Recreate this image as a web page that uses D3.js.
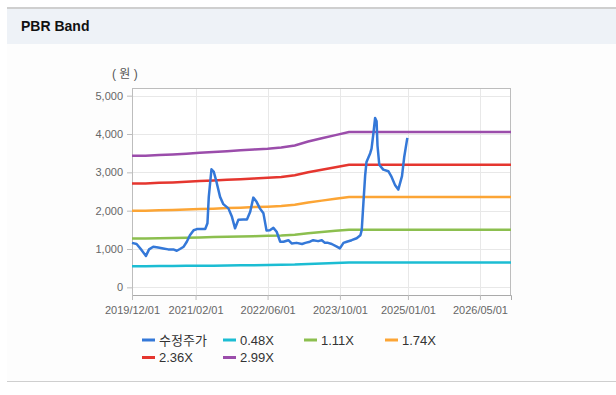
<!DOCTYPE html>
<html>
<head>
<meta charset="utf-8">
<script src="https://cdn.jsdelivr.net/npm/d3@7"></script>
<style>
  body { margin: 0; background: #fff; }
  svg { display: block; font-family: "Liberation Sans", "Noto Sans CJK KR", sans-serif; }
</style>
</head>
<body>
<svg id="chart" width="616" height="395"></svg>
<script>
// band dates (BPS updates) and band values
const bandDates = ['2019-12-01', '2020-03-01', '2020-06-01', '2020-09-01', '2020-12-01', '2021-03-01',
  '2021-06-01', '2021-09-01', '2021-12-01', '2022-03-01', '2022-06-01', '2022-09-01', '2022-12-01',
  '2023-03-01', '2023-06-01', '2023-09-01', '2023-12-01', '2026-11-26'];
const band048 = [551, 551, 554, 557, 560, 564, 566, 570, 574, 577, 581, 586, 594, 611, 624, 637, 651, 651];
const band111 = [1274, 1274, 1282, 1288, 1294, 1303, 1310, 1319, 1326, 1335, 1343, 1354, 1374, 1412, 1443, 1474, 1505, 1505];
const band174 = [1998, 1998, 2010, 2018, 2029, 2043, 2053, 2067, 2079, 2093, 2105, 2123, 2154, 2213, 2262, 2311, 2359, 2359];
const band236 = [2709, 2709, 2726, 2738, 2752, 2771, 2785, 2804, 2820, 2839, 2856, 2879, 2922, 3002, 3068, 3134, 3200, 3200];
const band299 = [3433, 3433, 3453, 3468, 3486, 3510, 3528, 3552, 3573, 3597, 3618, 3648, 3702, 3803, 3887, 3971, 4054, 4054];

// 수정주가 (adjusted price)
const priceDates = ['2019-12-01', '2020-01-01', '2020-02-04', '2020-03-04', '2020-03-25', '2020-04-22',
  '2020-05-25', '2020-06-28', '2020-08-01', '2020-09-04', '2020-09-28', '2020-10-19', '2020-11-13',
  '2020-12-04', '2020-12-25', '2021-01-19', '2021-02-10', '2021-04-07', '2021-04-22', '2021-05-01',
  '2021-05-19', '2021-06-04', '2021-06-22', '2021-07-16', '2021-08-07', '2021-09-10', '2021-10-04',
  '2021-10-25', '2021-11-16', '2021-12-19', '2022-01-13', '2022-02-04', '2022-02-25', '2022-03-19',
  '2022-04-10', '2022-05-04', '2022-05-25', '2022-06-16', '2022-07-10', '2022-08-01', '2022-08-25',
  '2022-09-16', '2022-10-19', '2022-11-10', '2022-12-13', '2023-01-19', '2023-02-10', '2023-03-13',
  '2023-04-04', '2023-05-07', '2023-06-01', '2023-06-22', '2023-07-13', '2023-08-07', '2023-09-10',
  '2023-10-01', '2023-10-25', '2023-11-16', '2023-12-19', '2024-01-22', '2024-02-16', '2024-02-25',
  '2024-03-07', '2024-03-19', '2024-03-28', '2024-04-22', '2024-05-01', '2024-05-13', '2024-05-25',
  '2024-06-04', '2024-06-10', '2024-06-22', '2024-07-19', '2024-08-22', '2024-09-13', '2024-10-07',
  '2024-10-28', '2024-11-22', '2024-12-07', '2024-12-28'];
const priceValues = [1160, 1130, 970, 820, 990, 1060,
  1040, 1015, 990, 990, 955, 1000, 1060,
  1190, 1360, 1490, 1520, 1520, 1670, 2360,
  3080, 3010, 2750, 2360, 2170, 2060, 1840,
  1540, 1760, 1770, 1770, 1970, 2340, 2230,
  2060, 1930, 1480, 1490, 1550, 1450, 1190,
  1190, 1230, 1145, 1160, 1130, 1160, 1190,
  1230, 1205, 1230, 1160, 1160, 1130, 1060,
  1015, 1160, 1190, 1230, 1280, 1360, 1500,
  2190, 2920, 3270, 3500, 3620, 4000, 4420,
  4330, 3700, 3200, 3070, 3030, 2880, 2660,
  2550, 2900, 3400, 3900];

const xTicks = ['2019-12-01', '2021-02-01', '2022-06-01', '2023-10-01', '2025-01-01', '2026-05-01'];
const yTicks = [0, 1000, 2000, 3000, 4000, 5000];
const legendLabels = ['수정주가', '0.48X', '1.11X', '1.74X', '2.36X', '2.99X'];
const colors = ['#3478d8', '#1cbdd3', '#8cbf4f', '#fca535', '#e5362f', '#9b4dab'];

const parse = d3.timeParse('%Y-%m-%d');
const fmt = d3.timeFormat('%Y/%m/%d');

const svg = d3.select('#chart');

// panel + header
svg.append('rect').attr('x', 7).attr('y', 44).attr('width', 609).attr('height', 337).attr('fill', '#fdfdfd');
svg.append('rect').attr('x', 7).attr('y', 8).attr('width', 609).attr('height', 36).attr('fill', '#eef2f7');
svg.append('line').attr('x1', 7).attr('x2', 616).attr('y1', 8).attr('y2', 8).attr('stroke', '#cfcfcf').attr('stroke-width', 2);
svg.append('line').attr('x1', 7).attr('x2', 616).attr('y1', 381.5).attr('y2', 381.5).attr('stroke', '#cfcfcf');
svg.append('text').attr('x', 21).attr('y', 31).text('PBR Band')
  .style('font-size', '14px').style('font-weight', 'bold').style('fill', '#111');

const margin = { top: 88, right: 105, bottom: 100, left: 132 };
const width = 616 - margin.left - margin.right;
const height = 395 - margin.top - margin.bottom;

const g = svg.append('g').attr('transform', `translate(${margin.left},${margin.top})`);

const x = d3.scaleTime()
  .domain([parse('2019-12-01'), parse('2026-11-26')])
  .range([0, width]);

const y = d3.scaleLinear()
  .domain([-200, 5200])
  .range([height, 0]);

g.append('rect').attr('width', width).attr('height', height).attr('fill', '#fff');

// grid
g.selectAll('.hgrid').data(yTicks).enter().append('line')
  .attr('x1', 0).attr('x2', width)
  .attr('y1', d => Math.round(y(d)) + 0.5).attr('y2', d => Math.round(y(d)) + 0.5)
  .attr('stroke', '#e8e8e8');
g.selectAll('.vgrid').data(xTicks.slice(1)).enter().append('line')
  .attr('x1', d => Math.round(x(parse(d))) + 0.5).attr('x2', d => Math.round(x(parse(d))) + 0.5)
  .attr('y1', 0).attr('y2', height)
  .attr('stroke', '#e8e8e8');

// border
g.append('rect').attr('x', 0.5).attr('y', 0.5).attr('width', width - 1).attr('height', height)
  .attr('fill', 'none').attr('stroke', '#bdbdbd');

// Y axis
const yAxis = g.append('g')
  .call(d3.axisLeft(y).tickValues(yTicks).tickSize(5).tickPadding(4).tickFormat(d3.format(',')));
yAxis.select('.domain').remove();
yAxis.selectAll('line').attr('stroke', '#bdbdbd');
yAxis.selectAll('text').style('font-size', '11px').style('fill', '#666').style('font-family', 'Liberation Sans');

// X axis
const xAxis = g.append('g')
  .attr('transform', `translate(0,${height})`)
  .call(d3.axisBottom(x).tickValues(xTicks.map(parse)).tickSize(5).tickPadding(6).tickFormat(fmt));
xAxis.select('.domain').attr('stroke', '#aaa');
xAxis.selectAll('line').attr('stroke', '#bdbdbd');
xAxis.selectAll('text').style('font-size', '11px').style('fill', '#666').style('font-family', 'Liberation Sans');

// unit label
svg.append('text').attr('x', 112).attr('y', 78).text('( 원 )')
  .style('font-size', '12px').style('fill', '#555');

// lines
const line = d3.line()
  .x(d => x(d.date))
  .y(d => y(d.value));

const bands = [band048, band111, band174, band236, band299];
bands.forEach((vals, i) => {
  const pts = bandDates.map((d, j) => ({ date: parse(d), value: vals[j] }));
  g.append('path')
    .datum(pts)
    .attr('fill', 'none')
    .attr('stroke', colors[i + 1])
    .attr('stroke-width', 2.5)
    .attr('d', line);
});

const pricePts = priceDates.map((d, j) => ({ date: parse(d), value: priceValues[j] }));
g.append('path')
  .datum(pricePts)
  .attr('fill', 'none')
  .attr('stroke', colors[0])
  .attr('stroke-width', 2.5)
  .attr('stroke-linejoin', 'round')
  .attr('d', line);

// legend
const legend = svg.selectAll('.legend').data(legendLabels).enter().append('g')
  .attr('transform', (d, i) => `translate(${142 + (i % 4) * 81},${340 + Math.floor(i / 4) * 17.5})`);
legend.append('line')
  .attr('x1', 0).attr('x2', 13).attr('y1', 0).attr('y2', 0)
  .attr('stroke', (d, i) => colors[i]).attr('stroke-width', 3);
legend.append('text')
  .attr('x', 17).attr('y', 0).attr('dy', '0.36em')
  .text(d => d)
  .style('font-size', '13px').style('fill', '#333');
</script>
</body>
</html>
